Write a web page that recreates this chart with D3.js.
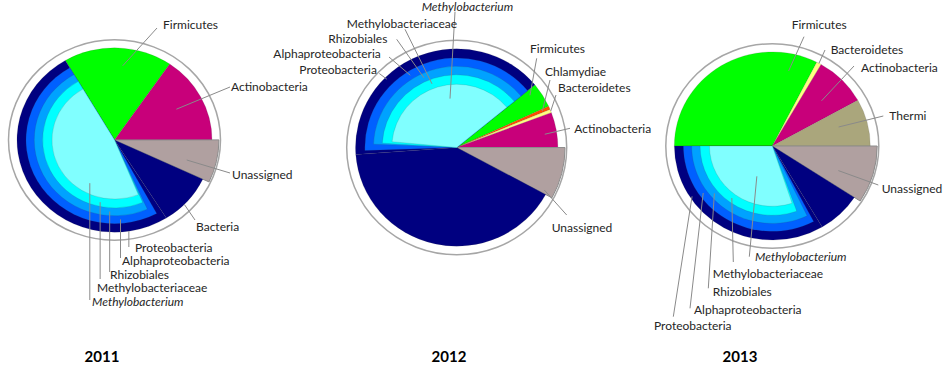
<!DOCTYPE html>
<html>
<head>
<meta charset="utf-8">
<title>Taxonomic composition 2011-2013</title>
<style>
  body { margin: 0; background: #fff; }
  text { font-family: Lato, 'Open Sans', sans-serif; fill: #262626; }
  .lbl { font-size: 12px; }
  .year { font-size: 15px; font-weight: bold; fill: #000; }
  .lead { stroke: #8a8a8a; stroke-width: 1; fill: none; }
</style>
</head>
<body>
<div id="chart"></div>
<script src="https://cdn.jsdelivr.net/npm/d3@7"></script>
<script>
// share of reads (%), clockwise from the Firmicutes wedge
var years = ['2011', '2012', '2013'];
var taxa2011 = ['Firmicutes', 'Actinobacteria', 'Unassigned', 'Bacteria', 'Proteobacteria'];
var share2011 = [18.0, 15.4, 7.0, 9.1, 50.5];
var taxa2012 = ['Firmicutes', 'Chlamydiae', 'Bacteroidetes', 'Actinobacteria', 'Unassigned', 'Bacteria', 'Proteobacteria'];
var share2012 = [4.1, 0.55, 0.55, 5.75, 7.9, 40.95, 40.2];
var taxa2013 = ['Firmicutes', 'Bacteroidetes', 'Actinobacteria', 'Thermi', 'Unassigned', 'Bacteria', 'Proteobacteria'];
var share2013 = [32.5, 0.8, 8.6, 8.1, 9.2, 7.3, 33.5];

// Proteobacteria lineage, nested inside the Proteobacteria wedge (% of whole pie)
var lineage = ['Alphaproteobacteria', 'Rhizobiales', 'Methylobacteriaceae', 'Methylobacterium'];
var lineage2011 = [49.5, 48.3, 48.0, 47.8];
var lineage2012 = [39.6, 38.4, 38.1, 37.6];
var lineage2013 = [32.7, 32.1, 30.5, 30.1];

var color = {
  'Firmicutes': '#00ff00',
  'Actinobacteria': '#c8007a',
  'Unassigned': '#b0a0a0',
  'Bacteria': '#000080',
  'Proteobacteria': '#000080',
  'Chlamydiae': '#ff4f00',
  'Bacteroidetes': '#ffff80',
  'Thermi': '#aaa67c',
  'Alphaproteobacteria': '#0060ff',
  'Rhizobiales': '#00a2ff',
  'Methylobacteriaceae': '#00ffff',
  'Methylobacterium': '#80ffff'
};
var sliceR = 0.92, unassignedR = 0.985;
var ringR = [0.835, 0.757, 0.678, 0.59];

// label: [name, fraction along the wedge, radius fraction, text x, text y (middle), leader start x (null = vertical), leader start y]
var labels2011 = [
  ['Firmicutes', 0.56, 0.745, 163, 25, 157, 28],
  ['Actinobacteria', 0.50, 0.66, 231, 87, 230, 87],
  ['Unassigned', 0.65, 0.71, 232, 175, 230, 173],
  ['Bacteria', 0.585, 0.92, 196, 227, 195, 220],
  ['Proteobacteria', 0.13, 0.92, 135, 247.5, null, 247],
  ['Alphaproteobacteria', 0.137, 0.795, 122, 261, null, 258],
  ['Rhizobiales', 0.16, 0.715, 110, 274.5, null, 272],
  ['Methylobacteriaceae', 0.205, 0.635, 97, 288, null, 279],
  ['Methylobacterium', 0.295, 0.49, 92, 301.5, null, 300]
];
var labels2012 = [
  ['Methylobacterium', 0.57, 0.46, 421.7, 6.7, 455, 11.7],
  ['Methylobacteriaceae', 0.48, 0.635, 346.7, 24, 405, 29.3],
  ['Rhizobiales', 0.456, 0.715, 328.3, 39, 396.7, 39.3],
  ['Alphaproteobacteria', 0.42, 0.795, 273.3, 54, 389, 57],
  ['Proteobacteria', 0.34, 0.9, 299.3, 70, 379.3, 73.5],
  ['Firmicutes', 0.22, 0.825, 530, 48.3, 536.7, 58.3],
  ['Chlamydiae', 0.5, 0.85, 545, 71.7, 550, 80],
  ['Bacteroidetes', 0.5, 0.92, 558, 87.3, 556, 95],
  ['Actinobacteria', 0.575, 0.81, 574.3, 128.3, 570, 128.3],
  ['Unassigned', 0.93, 0.89, 551.7, 227.3, 566.7, 215]
];
var labels2013 = [
  ['Firmicutes', 0.87, 0.75, 791.7, 25, 804, 36.7],
  ['Bacteroidetes', 0.5, 0.92, 830.7, 50, 825, 50],
  ['Actinobacteria', 0.53, 0.64, 861, 67.3, 854, 66],
  ['Thermi', 0.43, 0.65, 889.3, 115.7, 883.3, 116],
  ['Unassigned', 0.64, 0.665, 881.7, 188.3, 878.3, 185],
  ['Methylobacterium', 0.41, 0.33, 755, 256.7, 749.3, 256.7],
  ['Methylobacteriaceae', 0.515, 0.635, 712.7, 273.3, 733.3, 262],
  ['Rhizobiales', 0.65, 0.715, 712.7, 291.7, 708.3, 288.3],
  ['Alphaproteobacteria', 0.70, 0.795, 694, 310, 690, 308.3],
  ['Proteobacteria', 0.725, 0.9, 654, 326, 673.3, 316.7]
];

var pies = [
  {year: years[0], taxa: taxa2011, share: share2011, sub: lineage2011, labels: labels2011,
   cx: 114.5, cy: 140, r: 106, sy: 0.945, start: -30.3, yearX: 102},
  {year: years[1], taxa: taxa2012, share: share2012, sub: lineage2012, labels: labels2012,
   cx: 456.7, cy: 147.5, r: 110, sy: 0.975, start: 50.6, yearX: 449},
  {year: years[2], taxa: taxa2013, share: share2013, sub: lineage2013, labels: labels2013,
   cx: 772.3, cy: 146, r: 106.5, sy: 0.96, start: -90, yearX: 740}
];

var width = 945, height = 371;
var rad = Math.PI / 180;

var svg = d3.select('#chart').append('svg')
  .attr('width', width)
  .attr('height', height);

pies.forEach(function(p) {
  var pie = d3.pie()
    .sort(null)
    .value(function(d) { return d.value; })
    .startAngle(p.start * rad)
    .endAngle(p.start * rad + 2 * Math.PI);

  var slices = pie(p.taxa.map(function(t, i) { return {name: t, value: p.share[i]}; }));
  var proteo = slices.filter(function(s) { return s.data.name === 'Proteobacteria'; })[0];

  // nested lineage wedges share the clockwise end of the Proteobacteria wedge
  var rings = lineage.map(function(t, i) {
    return {name: t, startAngle: proteo.endAngle - p.sub[i] / 100 * 2 * Math.PI,
            endAngle: proteo.endAngle, rf: ringR[i]};
  });

  var arc = d3.arc().innerRadius(0);

  var g = svg.append('g')
    .attr('transform', 'translate(' + p.cx + ',' + p.cy + ') scale(1,' + p.sy + ')');

  g.append('circle')
    .attr('r', p.r)
    .attr('fill', 'none')
    .attr('stroke', '#a6a6a6')
    .attr('stroke-width', 1.5)
    .attr('vector-effect', 'non-scaling-stroke');

  g.selectAll('path.slice')
    .data(slices)
    .enter()
    .append('path')
    .attr('class', 'slice')
    .attr('d', function(d) {
      var rf = d.data.name === 'Unassigned' ? unassignedR : sliceR;
      return arc.outerRadius(rf * p.r)(d);
    })
    .attr('fill', function(d) { return color[d.data.name]; })
    .attr('stroke', function(d) { return d.data.name === 'Unassigned' ? '#8c8c8c' : 'rgba(60,60,60,0.3)'; })
    .attr('stroke-width', function(d) { return d.data.name === 'Unassigned' ? 1 : 0.5; })
    .attr('vector-effect', 'non-scaling-stroke');

  g.selectAll('path.ring')
    .data(rings)
    .enter()
    .append('path')
    .attr('class', 'ring')
    .attr('d', function(d) { return arc.outerRadius(d.rf * p.r)(d); })
    .attr('fill', function(d) { return color[d.name]; })
    .attr('stroke', 'rgba(60,60,60,0.3)')
    .attr('stroke-width', 0.5)
    .attr('vector-effect', 'non-scaling-stroke');

  function anchor(name, frac, rf) {
    var s = slices.filter(function(d) { return d.data.name === name; })[0] ||
            rings.filter(function(d) { return d.name === name; })[0];
    var a = s.startAngle + frac * (s.endAngle - s.startAngle);
    return [p.cx + rf * p.r * Math.sin(a), p.cy - rf * p.r * Math.cos(a) * p.sy];
  }

  p.labels.forEach(function(l) {
    var end = anchor(l[0], l[1], l[2]);
    var x0 = l[5] === null ? end[0] : l[5];
    svg.append('line')
      .attr('class', 'lead')
      .attr('x1', x0).attr('y1', l[6])
      .attr('x2', end[0]).attr('y2', end[1]);
    svg.append('text')
      .attr('class', 'lbl')
      .attr('x', l[3])
      .attr('y', l[4])
      .attr('dy', '0.35em')
      .style('font-style', l[0] === 'Methylobacterium' ? 'italic' : null)
      .text(l[0]);
  });

  svg.append('text')
    .attr('class', 'year')
    .attr('x', p.yearX)
    .attr('y', 357)
    .attr('dy', '0.35em')
    .attr('text-anchor', 'middle')
    .text(p.year);
});
</script>
</body>
</html>
